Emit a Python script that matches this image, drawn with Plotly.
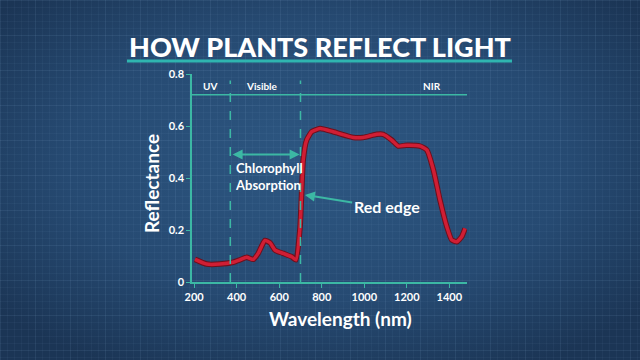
import base64
import plotly.graph_objects as go

# ---- data ----
wavelength = [204, 259, 321, 384, 415, 447, 478, 501, 533, 557, 580, 619, 659, 679,
              698, 713, 729, 753, 792, 854, 948, 995, 1058, 1089, 1129, 1160, 1199,
              1262, 1294, 1325, 1356, 1388, 1411, 1435, 1458, 1474]
reflectance = [0.087, 0.069, 0.069, 0.076, 0.085, 0.095, 0.087, 0.110, 0.160, 0.151,
               0.123, 0.110, 0.097, 0.085, 0.210, 0.470, 0.546, 0.578, 0.590, 0.578,
               0.556, 0.556, 0.568, 0.568, 0.546, 0.523, 0.526, 0.523, 0.508, 0.431,
               0.315, 0.213, 0.162, 0.155, 0.174, 0.206]
band_edges = [370, 700]
band_labels = ["UV", "Visible", "NIR"]
band_label_x = [274, 520, 1318]
x_ticks = [200, 400, 600, 800, 1000, 1200, 1400]
y_ticks = [0, 0.2, 0.4, 0.6, 0.8]
y_ticktext = ["0", "0.2", "0.4", "0.6", "0.8"]

W, H = 640, 360
L, R, T, B = 192, 173, 74, 78
PW, PH = W - L - R, H - T - B

def px(x):
    return (x - L) / PW

def py(y):
    return 1 - (y - T) / PH

TEAL = "#3cb8a4"
FONT = "Lato"

# background: radial gradient + blueprint grid as svg
svg = f'''<svg xmlns="http://www.w3.org/2000/svg" width="{W}" height="{H}">
<defs>
<radialGradient id="g" cx="50%" cy="45%" r="65%">
<stop offset="0%" stop-color="#2d5782"/>
<stop offset="60%" stop-color="#264a72"/>
<stop offset="100%" stop-color="#1b3555"/>
</radialGradient>
<pattern id="p" width="7" height="7" patternUnits="userSpaceOnUse">
<path d="M7 0 L0 0 0 7" fill="none" stroke="rgba(140,180,220,0.10)" stroke-width="1"/>
</pattern>
<pattern id="q" width="35" height="35" patternUnits="userSpaceOnUse">
<path d="M35 0 L0 0 0 35" fill="none" stroke="rgba(150,190,230,0.10)" stroke-width="1"/>
</pattern>
</defs>
<rect width="{W}" height="{H}" fill="url(#g)"/>
<rect width="{W}" height="{H}" fill="url(#p)"/>
<rect width="{W}" height="{H}" fill="url(#q)"/>
</svg>'''
bg_uri = "data:image/svg+xml;base64," + base64.b64encode(svg.encode()).decode()

fig = go.Figure()
fig.add_trace(go.Scatter(x=wavelength, y=reflectance, mode="lines",
                         line=dict(color="#6e0f1c", width=5.5, shape="spline", smoothing=0.5),
                         hoverinfo="skip", showlegend=False))
fig.add_trace(go.Scatter(x=wavelength, y=reflectance, mode="lines",
                         line=dict(color="#d01e34", width=3.5, shape="spline", smoothing=0.5),
                         hoverinfo="skip", showlegend=False))

shapes = []
for e in band_edges:
    shapes.append(dict(type="line", xref="x", yref="y", x0=e, x1=e, y0=0, y1=0.775,
                       line=dict(color=TEAL, width=1.5, dash="dash"), layer="above"))
shapes.append(dict(type="line", xref="x", yref="y", x0=190, x1=1483, y0=0.72, y1=0.72,
                   line=dict(color=TEAL, width=1.5)))
shapes.append(dict(type="line", xref="paper", yref="paper", x0=px(127), x1=px(512),
                   y0=py(61), y1=py(61), line=dict(color="#2fb5b0", width=3)))

ann = []
for lab, xv in zip(band_labels, band_label_x):
    ann.append(dict(x=xv, y=0.752, xref="x", yref="y", text=lab, showarrow=False,
                    font=dict(family=FONT, size=10, color="white", weight="bold")))
ann.append(dict(x=px(320), y=py(46), xref="paper", yref="paper", xanchor="center",
                yanchor="middle", text="HOW PLANTS REFLECT LIGHT", showarrow=False,
                font=dict(family=FONT, size=27, color="white", weight=900)))
ann.append(dict(x=px(151), y=py(184), xref="paper", yref="paper", xanchor="center",
                yanchor="middle", text="Reflectance", textangle=-90, showarrow=False,
                font=dict(family=FONT, size=19, color="white", weight="bold")))
ann.append(dict(x=px(340), y=py(318), xref="paper", yref="paper", xanchor="center",
                yanchor="middle", text="Wavelength (nm)", showarrow=False,
                font=dict(family=FONT, size=19, color="white", weight="bold")))
ann.append(dict(x=381, y=0.404, xref="x", yref="y", xanchor="left", yanchor="middle",
                text="Chlorophyll<br>Absorption", align="left", showarrow=False,
                font=dict(family=FONT, size=13, color="white", weight="bold")))
ann.append(dict(x=1105, y=0.292, xref="x", yref="y", xanchor="center", yanchor="middle",
                text="Red edge", showarrow=False,
                font=dict(family=FONT, size=16, color="white", weight="bold")))
ann.append(dict(x=696, y=0.49, ax=374, ay=0.49, xref="x", yref="y", axref="x", ayref="y",
                text="", showarrow=True, arrowhead=2, arrowside="end+start",
                arrowsize=1, arrowwidth=2, arrowcolor=TEAL))
ann.append(dict(x=721, y=0.335, ax=950, ay=0.305, xref="x", yref="y", axref="x", ayref="y",
                text="", showarrow=True, arrowhead=2, arrowsize=1, arrowwidth=2,
                arrowcolor=TEAL))

fig.update_layout(
    width=W, height=H,
    margin=dict(l=L, r=R, t=T, b=B),
    paper_bgcolor="#264a72", plot_bgcolor="rgba(0,0,0,0)",
    images=[dict(source=bg_uri, xref="paper", yref="paper",
                 x=-L / PW, y=1 + T / PH, sizex=W / PW, sizey=H / PH,
                 xanchor="left", yanchor="top", sizing="stretch", layer="below")],
    shapes=shapes, annotations=ann,
    xaxis=dict(range=[190, 1483], tickvals=x_ticks, showgrid=False, zeroline=False,
               showline=True, linecolor=TEAL, linewidth=1.5, ticks="outside",
               ticklen=4, tickcolor=TEAL,
               tickfont=dict(family=FONT, size=11, color="white", weight="bold")),
    yaxis=dict(range=[0, 0.8], tickvals=y_ticks, ticktext=y_ticktext, showgrid=False,
               zeroline=False, showline=True, linecolor=TEAL, linewidth=1.5,
               ticks="outside", ticklen=4, tickcolor=TEAL,
               tickfont=dict(family=FONT, size=11, color="white", weight="bold")),
)

fig.write_html("out.html")
